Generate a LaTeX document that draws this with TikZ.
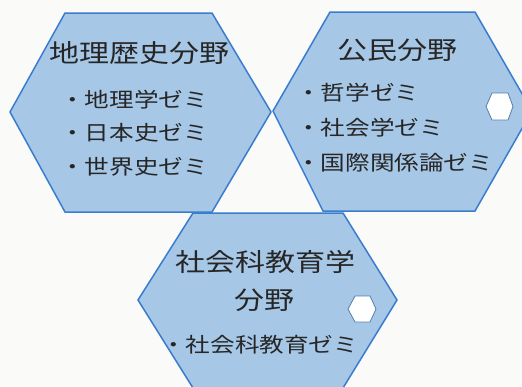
\documentclass[tikz,border=0pt]{standalone}
\usepackage{fontspec}
\newfontfamily\jpfont[FakeStretch=1.2]{Noto Sans CJK JP}
\definecolor{hexfill}{RGB}{166,199,230}
\definecolor{hexline}{RGB}{58,124,206}
\definecolor{paper}{RGB}{250,250,248}
\definecolor{ink}{RGB}{38,38,38}
\begin{document}
\begin{tikzpicture}[x=1pt,y=-1pt,
  bighex/.style={fill=hexfill,draw=hexline,line width=1.5pt,line join=miter},
  smallhex/.style={fill=white,draw=hexline!60!gray,line width=0.8pt},
  titletext/.style={inner sep=0pt,text=ink,font=\jpfont\fontsize{25}{30}\selectfont},
  itemtext/.style={inner sep=0pt,anchor=west,text=ink,font=\jpfont\fontsize{20.5}{24}\selectfont}]
\fill[paper] (0,0) rectangle (522,386);
\useasboundingbox (0,0) rectangle (522,386);
\begin{scope}
\clip (0,0) rectangle (522,386);
% hexagons
\draw[bighex] (65,13) -- (212,13) -- (271,112) -- (212,212) -- (65,212) -- (10,112) -- cycle;
\draw[bighex] (330,12) -- (475,12) -- (532,111) -- (475,211) -- (323,211) -- (273,111) -- cycle;
\draw[bighex] (193,213) -- (343,213) -- (397,300) -- (343,388) -- (193,388) -- (138,300) -- cycle;
\draw[smallhex] (492,93) -- (508,93) -- (513,106.5) -- (508,120) -- (492,120) -- (486,106.5) -- cycle;
\draw[smallhex] (355,296) -- (370,296) -- (376,309) -- (370,322) -- (355,322) -- (348,309) -- cycle;
\end{scope}
% texts
\node[titletext] (t1) at (139,53) {地理歴史分野};
\node[itemtext] (a1) at (60,100) {・地理学ゼミ};
\node[itemtext] (a2) at (60,133) {・日本史ゼミ};
\node[itemtext] (a3) at (60,167) {・世界史ゼミ};
\node[titletext] (t2) at (397.5,50) {公民分野};
\node[itemtext] (b1) at (296,93) {・哲学ゼミ};
\node[itemtext] (b2) at (296,128) {・社会学ゼミ};
\node[itemtext] (b3) at (296,163) {・国際関係論ゼミ};
\node[titletext] (t3) at (265.5,262) {社会科教育学};
\node[titletext] (t4) at (264,300) {分野};
\node[itemtext] (c1) at (161,345) {・社会科教育ゼミ};
\end{tikzpicture}
\end{document}
